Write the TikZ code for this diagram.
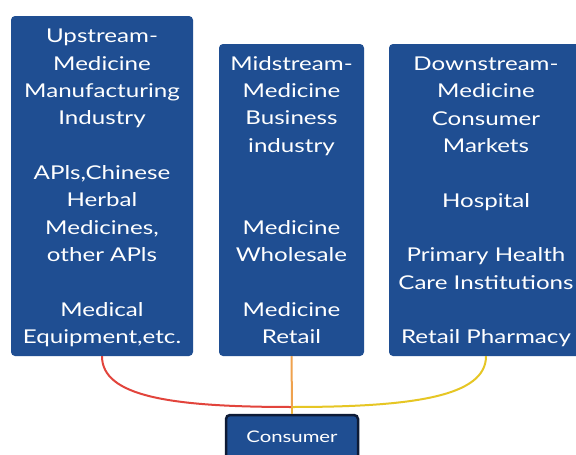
\documentclass[tikz,border=0pt]{standalone}
\usepackage{fontspec}
\setmainfont{Lato}[FakeStretch=1.27]
\definecolor{boxblue}{HTML}{1F4E92}
\definecolor{edgenavy}{HTML}{0E1B36}
\definecolor{linkred}{HTML}{E2443C}
\definecolor{linkorange}{HTML}{EFA24E}
\definecolor{linkyellow}{HTML}{E6C624}
\tikzset{
  stagebox/.style={draw=none, fill=boxblue, rounded corners=4pt, inner sep=0pt},
  stagetext/.style={text=white, align=center, inner sep=0pt,
    font=\fontsize{19}{27.36}\selectfont},
  link/.style={line width=2pt},
}
\begin{document}
\begin{tikzpicture}[x=1pt,y=-1pt]
\useasboundingbox (0,0) rectangle (576,455);
\clip (0,0) rectangle (576,455);
\fill[white] (0,0) rectangle (576,455);

% three stage boxes
\node[stagebox, minimum width=182pt, minimum height=340pt] (up) at (102,186) {};
\node[stagebox, minimum width=145pt, minimum height=312pt] (mid) at (291.5,200) {};
\node[stagebox, minimum width=194pt, minimum height=312pt] (down) at (486,200) {};

% stage texts
\node[stagetext] (uptext) at (102,188) {Upstream-\\Medicine\\Manufacturing\\Industry\\[27.36pt]APls,Chinese\\Herbal\\Medicines,\\other APls\\[27.36pt]Medical\\Equipment,etc.};
\node[stagetext] (midtext) at (291.5,200) {Midstream-\\Medicine\\Business\\industry\\[54.72pt]Medicine\\Wholesale\\[27.36pt]Medicine\\Retail};
\node[stagetext] (downtext) at (486,202) {Downstream-\\Medicine\\Consumer\\Markets\\[27.36pt]Hospital\\[27.36pt]Primary Health\\Care Institutions\\[27.36pt]Retail Pharmacy};

% consumer box
\node[draw=edgenavy, line width=2.5pt, fill=boxblue, rounded corners=4pt,
  inner xsep=0pt, inner ysep=0pt, minimum width=132pt,
  text height=27pt, text depth=28pt, text=white,
  font=\fontsize{16}{20}\selectfont, anchor=base] (consumer) at (292,442) {Consumer};

% connectors meeting above the consumer
\coordinate (join) at (292,407);
\draw[link, linkred] (up.south) .. controls +(0,40) and +(-122,0) .. (join);
\draw[link, linkyellow] (down.south) .. controls +(0,40) and +(122,0) .. (join);
\draw[link, linkorange] (mid.south) -- (join);
\draw[link, linkorange!60!linkyellow] (join) -- (consumer.north);
\end{tikzpicture}
\end{document}
